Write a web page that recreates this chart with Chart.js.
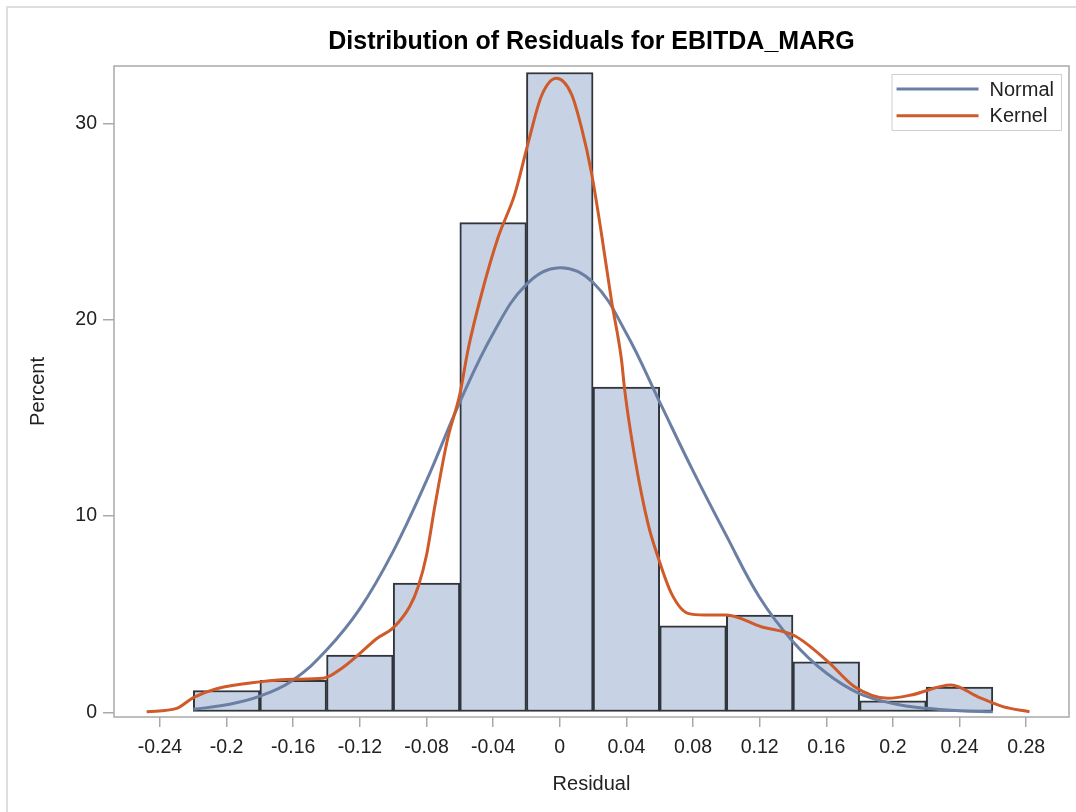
<!DOCTYPE html>
<html>
<head>
<meta charset="utf-8">
<script src="https://cdn.jsdelivr.net/npm/chart.js@4.4.1/dist/chart.umd.min.js"></script>
<style>
  html, body { margin: 0; padding: 0; background: #fff; }
  canvas { display: block; }
</style>
</head>
<body>
<canvas id="c" width="1076" height="812"></canvas>
<script>
// ---- data ----
const chartTitle = 'Distribution of Residuals for EBITDA_MARG';
const xTitle = 'Residual';
const yTitle = 'Percent';

const binCenters  = [-0.2, -0.16, -0.12, -0.08, -0.04, 0, 0.04, 0.08, 0.12, 0.16, 0.2, 0.24];
const binPercents = [1.11, 1.63, 2.91, 6.58, 24.95, 32.6, 16.57, 4.4, 4.95, 2.57, 0.58, 1.28];

const normalX = [-0.22, -0.2, -0.18, -0.16, -0.14, -0.12, -0.1, -0.08, -0.06, -0.04, -0.02, 0, 0.02, 0.04, 0.06, 0.08, 0.1, 0.12, 0.14, 0.16, 0.18, 0.2, 0.22, 0.24, 0.26];
const normalY = [0.15, 0.38, 0.82, 1.65, 3.17, 5.28, 8.2, 11.8, 15.8, 19.3, 21.8, 22.65, 21.9, 19.3, 15.8, 12.3, 9.0, 5.85, 3.6, 2.0, 0.95, 0.45, 0.2, 0.08, 0.03];

const kernelX = [-0.248, -0.23, -0.22, -0.206, -0.18, -0.16, -0.142, -0.13, -0.12, -0.11, -0.1, -0.09, -0.085, -0.08, -0.075, -0.0674, -0.06, -0.055, -0.047, -0.037, -0.027, -0.019, -0.011, -0.002, 0.007, 0.013, 0.019, 0.025, 0.031, 0.037, 0.039, 0.045, 0.053, 0.059, 0.067, 0.077, 0.087, 0.1, 0.121, 0.141, 0.161, 0.177, 0.197, 0.211, 0.235, 0.251, 0.266, 0.282];
const kernelY = [0.03, 0.2, 0.75, 1.2, 1.55, 1.68, 1.73, 2.3, 3.0, 3.75, 4.3, 5.4, 6.4, 8.0, 10.5, 13.9, 16.2, 18.5, 21.3, 24.2, 26.4, 29.0, 31.4, 32.3, 31.5, 29.8, 27.5, 24.4, 21.0, 18.0, 16.4, 13.0, 9.6, 7.9, 6.06, 5.04, 4.96, 4.96, 4.36, 3.9, 2.58, 1.30, 0.71, 0.88, 1.39, 0.79, 0.29, 0.03];

const xTickValues = [-0.24, -0.2, -0.16, -0.12, -0.08, -0.04, 0, 0.04, 0.08, 0.12, 0.16, 0.2, 0.24, 0.28];
const xTickLabels = ['-0.24', '-0.2', '-0.16', '-0.12', '-0.08', '-0.04', '0', '0.04', '0.08', '0.12', '0.16', '0.2', '0.24', '0.28'];
const yTickValues = [0, 10, 20, 30];
const yTickLabels = ['0', '10', '20', '30'];

const seriesNames = ['Normal', 'Kernel'];

// ---- styling ----
const FONT = '"Liberation Sans", Arial, Helvetica, sans-serif';
const frameColor = '#a9a9a9';
const textColor = '#222222';

const framePlugin = {
  id: 'frame',
  beforeDraw(chart) {
    const ctx = chart.ctx;
    ctx.save();
    ctx.fillStyle = '#ffffff';
    ctx.fillRect(0, 0, chart.width, chart.height);
    ctx.strokeStyle = '#dedede';
    ctx.lineWidth = 2;
    ctx.beginPath();
    ctx.moveTo(7, chart.height);
    ctx.lineTo(7, 7);
    ctx.lineTo(chart.width, 7);
    ctx.stroke();
    ctx.restore();
  },
  afterDraw(chart) {
    const {ctx, chartArea: a} = chart;
    ctx.save();
    ctx.strokeStyle = frameColor;
    ctx.lineWidth = 1.5;
    ctx.strokeRect(a.left, a.top, a.right - a.left, a.bottom - a.top);
    ctx.restore();
  }
};

const legendPlugin = {
  id: 'boxLegend',
  afterDatasetsDraw(chart) {
    const {ctx, chartArea} = chart;
    const items = seriesNames.map(n => chart.data.datasets.find(d => d.label === n));
    ctx.save();
    ctx.font = '20px ' + FONT;
    const tw = Math.max(...items.map(d => ctx.measureText(d.label).width));
    const pad = 5, lineLen = 82, gap = 11, rowH = 26.7;
    const w = pad + lineLen + gap + tw + 7;
    const h = 56;
    const x = chartArea.right - 8 - w;
    const y = chartArea.top + 8;
    ctx.fillStyle = '#ffffff';
    ctx.fillRect(x, y, w, h);
    ctx.strokeStyle = '#cfcfcf';
    ctx.lineWidth = 1;
    ctx.strokeRect(x + 0.5, y + 0.5, w, h);
    items.forEach((d, i) => {
      const cy = y + 15 + i * rowH;
      ctx.strokeStyle = d.borderColor;
      ctx.lineWidth = 3;
      ctx.beginPath();
      ctx.moveTo(x + pad, cy);
      ctx.lineTo(x + pad + lineLen, cy);
      ctx.stroke();
      ctx.fillStyle = textColor;
      ctx.textBaseline = 'middle';
      ctx.textAlign = 'left';
      ctx.fillText(d.label, x + pad + lineLen + gap, cy + 1);
    });
    ctx.restore();
  }
};

const barData = binCenters.map((x, i) => ({x: x, y: binPercents[i]}));
const normalData = normalX.map((x, i) => ({x: x, y: normalY[i]}));
const kernelData = kernelX.map((x, i) => ({x: x, y: kernelY[i]}));

new Chart(document.getElementById('c'), {
  data: {
    datasets: [
      {
        type: 'line',
        label: seriesNames[1],
        data: kernelData,
        borderColor: '#cf5a2a',
        backgroundColor: '#cf5a2a',
        borderWidth: 3,
        pointRadius: 0,
        cubicInterpolationMode: 'monotone',
        fill: false,
        order: 1
      },
      {
        type: 'line',
        label: seriesNames[0],
        data: normalData,
        borderColor: '#6b7fa5',
        backgroundColor: '#6b7fa5',
        borderWidth: 3,
        pointRadius: 0,
        tension: 0.4,
        fill: false,
        order: 2
      },
      {
        type: 'bar',
        label: 'Histogram',
        data: barData,
        backgroundColor: '#c7d3e4',
        borderColor: '#30353c',
        borderWidth: 2,
        borderSkipped: false,
        barPercentage: 1,
        categoryPercentage: 1,
        order: 3
      }
    ]
  },
  options: {
    responsive: false,
    animation: false,
    devicePixelRatio: 1,
    layout: { padding: { left: 0, right: 7, top: 0, bottom: 0 } },
    plugins: {
      legend: { display: false },
      tooltip: { enabled: false },
      title: {
        display: true,
        text: chartTitle,
        fullSize: false,
        color: '#000000',
        font: { family: FONT, size: 25, weight: 'bold', lineHeight: 1.2 },
        padding: { top: 27.5, bottom: 8.5 }
      }
    },
    scales: {
      x: {
        type: 'linear',
        offset: false,
        min: -0.2676,
        max: 0.3057,
        afterFit(scale) { scale.height = 95; },
        afterBuildTicks(scale) { scale.ticks = xTickValues.map(v => ({value: v})); },
        border: { display: false },
        grid: { offset: false, drawOnChartArea: false, drawTicks: true, tickLength: 10, color: frameColor, lineWidth: 1.5 },
        ticks: {
          autoSkip: false,
          maxRotation: 0,
          padding: 9,
          color: textColor,
          font: { family: FONT, size: 19.5 },
          callback: (v, i) => xTickLabels[i]
        },
        title: {
          display: true,
          text: xTitle,
          color: textColor,
          font: { family: FONT, size: 20 },
          padding: { top: 0, bottom: 16 }
        }
      },
      y: {
        type: 'linear',
        min: -0.24,
        max: 32.93,
        afterFit(scale) { scale.width = 114; },
        afterBuildTicks(scale) { scale.ticks = yTickValues.map(v => ({value: v})); },
        border: { display: false },
        grid: { drawOnChartArea: false, drawTicks: true, tickLength: 11, color: frameColor, lineWidth: 1.5 },
        ticks: {
          padding: 6,
          color: textColor,
          font: { family: FONT, size: 19.5 },
          callback: (v, i) => yTickLabels[i]
        },
        title: {
          display: true,
          text: yTitle,
          color: textColor,
          font: { family: FONT, size: 20 },
          padding: { top: 26, bottom: 0 }
        }
      }
    }
  },
  plugins: [framePlugin, legendPlugin]
});
</script>
</body>
</html>
